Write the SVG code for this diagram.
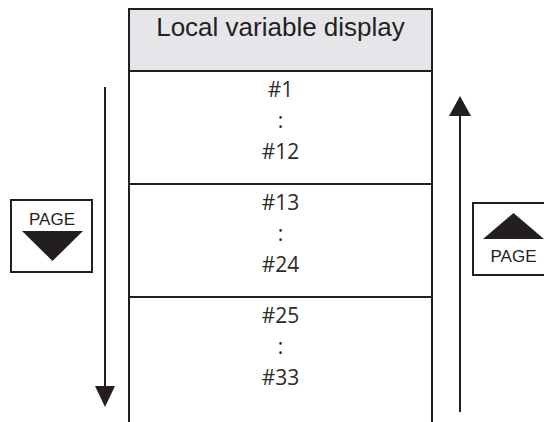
<svg xmlns="http://www.w3.org/2000/svg" width="544" height="422" viewBox="0 0 544 422">
<style>
.ln{stroke:#231f20;stroke-width:2;fill:none}
.hd{font-family:"Liberation Sans",Arial,sans-serif;font-size:26px;fill:#231f20;text-anchor:middle}
.rt{font-family:"Open Sans","Noto Sans",sans-serif;font-size:21px;fill:#2b2b2b;text-anchor:middle}
.pg{font-family:"Liberation Sans",Arial,sans-serif;font-size:17px;fill:#231f20;text-anchor:middle}
.tri{fill:#231f20}
</style>
<rect width="544" height="422" fill="#fff"/>
<g id="table">
<rect x="129" y="9" width="303" height="62" fill="#e6e6ea"/>
<path class="ln" d="M129,422 V9 H432 V422 M129,71 H432 M129,184 H432 M129,297 H432"/>
<text class="hd" x="280.5" y="36">Local variable display</text>
</g>
<g id="row1">
<text class="rt" x="280.5" y="97">#1</text>
<text class="rt" x="280.5" y="128">:</text>
<text class="rt" x="280.5" y="159">#12</text>
</g>
<g id="row2">
<text class="rt" x="280.5" y="210">#13</text>
<text class="rt" x="280.5" y="241">:</text>
<text class="rt" x="280.5" y="272">#24</text>
</g>
<g id="row3">
<text class="rt" x="280.5" y="323">#25</text>
<text class="rt" x="280.5" y="354">:</text>
<text class="rt" x="280.5" y="385">#33</text>
</g>
<g id="connectors">
<line class="ln" x1="105" y1="87" x2="105" y2="390"/>
<polygon class="tri" points="95,386 115,386 105,407"/>
<line class="ln" x1="460" y1="112" x2="460" y2="412"/>
<polygon class="tri" points="449,116 471,116 460,96"/>
</g>
<g id="page-down">
<rect x="11" y="200" width="81" height="72" fill="#fff" stroke="#231f20" stroke-width="2"/>
<text class="pg" x="52" y="225">PAGE</text>
<polygon class="tri" points="22,231 83,231 52.5,261"/>
</g>
<g id="page-up">
<rect x="473" y="203" width="81" height="72" fill="#fff" stroke="#231f20" stroke-width="2"/>
<polygon class="tri" points="483,239 544,239 513.5,213"/>
<text class="pg" x="513.5" y="262">PAGE</text>
</g>
</svg>
